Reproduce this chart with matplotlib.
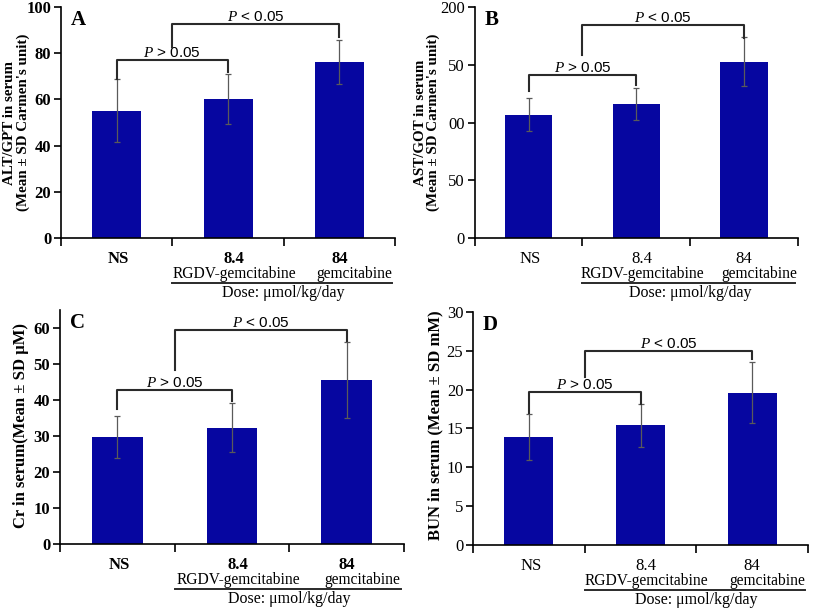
import matplotlib
matplotlib.use("Agg")
import matplotlib.pyplot as plt

plt.rcParams['font.family'] = ['Liberation Serif', 'DejaVu Serif']
plt.rcParams['mathtext.fontset'] = 'custom'
plt.rcParams['mathtext.it'] = 'Liberation Serif:italic'
plt.rcParams['mathtext.rm'] = 'Liberation Sans'

# data
groups = ['NS', '8.4', '84']
group_sub = ['', 'RGDV-gemcitabine', 'gemcitabine']

alt_mean = [55.1, 60.1, 76.3]
alt_sd = [13.7, 10.7, 9.5]
ast_mean = [106.8, 116.0, 152.5]
ast_sd = [14.0, 13.5, 21.0]
cr_mean = [29.7, 32.3, 45.5]
cr_sd = [5.8, 6.8, 10.6]
bun_mean = [13.9, 15.4, 19.6]
bun_sd = [3.0, 2.8, 3.9]

alt_ticks = [0, 20, 40, 60, 80, 100]
ast_ticks = [0, 50, 100, 150, 200]
ast_ticklabels = ['0', '50', '00', '50', '200']
cr_ticks = [0, 10, 20, 30, 40, 50, 60]
bun_ticks = [0, 5, 10, 15, 20, 25, 30]

bar_col = '#0606a0'
err_col = '#5a5a5a'
line_col = '#2a2a2a'

fig = plt.figure(figsize=(8.16, 6.12), dpi=100)
H = 612.0

# small sideways nudges of the x labels, in points
main_dx = [1.5, 4, 0]
sub_dx = [0, 4.5, 11]


def panel(rect, letter, mean, sd, ylim, ticks, ticklabels, ylabel, ylab_fs,
          ylab_xy, bold, br_small, br_big):
    ax = fig.add_axes(rect)
    x = list(range(len(groups)))
    ax.bar(x, mean, width=0.44, color=bar_col, zorder=2)
    ax.errorbar(x, mean, yerr=sd, fmt='none', ecolor=err_col, elinewidth=0.9,
                capsize=2, capthick=0.9, zorder=3)
    ax.set_xlim(-0.5, 2.5)
    ax.set_ylim(*ylim)
    ax.spines['top'].set_visible(False)
    ax.spines['right'].set_visible(False)
    ax.spines['left'].set_linewidth(1.2)
    ax.spines['bottom'].set_linewidth(1.2)
    ax.set_xticks([-0.5, 0.5, 1.5, 2.5])
    ax.set_xticklabels([])
    ax.tick_params(axis='x', direction='out', length=6, width=1.2)
    ax.set_yticks(ticks)
    ax.set_yticklabels(ticklabels, fontsize=12,
                       fontweight='bold' if bold else 'normal')
    ax.tick_params(axis='y', direction='out', length=5, width=1.2, pad=2)
    ax.set_ylabel(ylabel, fontsize=ylab_fs, fontweight='bold', linespacing=1.0)
    ax.yaxis.set_label_coords(*ylab_xy)
    ax.text(0.03, 0.985, letter, transform=ax.transAxes, fontsize=15,
            fontweight='bold', ha='left', va='top')

    # x category labels
    trans = ax.get_xaxis_transform()
    w = 'bold' if bold else 'normal'
    for i, g in enumerate(groups):
        ax.annotate(g, xy=(i, 0), xycoords=trans, xytext=(main_dx[i], -15),
                    textcoords='offset points', ha='center', va='center',
                    fontsize=12, fontweight=w)
        if group_sub[i]:
            ax.annotate(group_sub[i], xy=(i, 0), xycoords=trans,
                        xytext=(sub_dx[i], -25.5), textcoords='offset points',
                        ha='center', va='center', fontsize=11.2)
    hpx = rect[3] * H
    yline = -45.0 / hpx
    ax.plot([0.5, 2.47], [yline, yline], transform=trans, color=line_col,
            lw=1.4, clip_on=False)
    ax.annotate('Dose: \u03bcmol/kg/day', xy=(1.5, 0), xycoords=trans,
                xytext=(0, -39.5), textcoords='offset points', ha='center',
                va='center', fontsize=11.5)

    # significance brackets
    for (x1, x2, top, b1, b2, txt) in (br_small, br_big):
        ax.plot([x1, x1, x2, x2], [b1, top, top, b2], color=line_col, lw=1.5,
                zorder=4, clip_on=False)
        ax.text((x1 + x2) / 2, top, txt, ha='center', va='bottom',
                fontsize=11, family='Liberation Sans')
    return ax


small = r'$\mathit{P}$ > 0.05'
big = r'$\mathit{P}$ < 0.05'

panel([0.0748, 0.6106, 0.4093, 0.3784], 'A', alt_mean, alt_sd, (0, 100),
      alt_ticks, [str(t) for t in alt_ticks],
      "ALT/GPT in serum\n(Mean \u00b1 SD Carmen's unit)", 10.8, (-0.093, 0.5),
      True, (0, 1, 77.0, 68.8, 72.0, small), (0.5, 2, 92.4, 82.7, 86.8, big))

panel([0.5817, 0.6106, 0.3962, 0.3784], 'B', ast_mean, ast_sd, (0, 200),
      ast_ticks, ast_ticklabels,
      "AST/GOT in serum\n(Mean \u00b1 SD Carmen's unit)", 10.8, (-0.107, 0.5),
      False, (0, 1, 141.0, 127.5, 132.4, small),
      (0.5, 2, 184.6, 158.0, 173.0, big))

panel([0.0735, 0.1106, 0.4216, 0.3835], 'C', cr_mean, cr_sd, (0, 65),
      cr_ticks, [str(t) for t in cr_ticks],
      "Cr in serum(Mean \u00b1 SD \u03bcM)", 12, (-0.09, 0.508),
      True, (0, 1, 42.7, 37.4, 39.7, small), (0.5, 2, 59.4, 48.2, 56.3, big))

panel([0.5797, 0.109, 0.4105, 0.3817], 'D', bun_mean, bun_sd, (0, 30),
      bun_ticks, [str(t) for t in bun_ticks],
      "BUN in serum (Mean \u00b1 SD mM)", 12, (-0.0896, 0.515),
      False, (0, 1, 19.7, 17.0, 18.2, small), (0.5, 2, 24.9, 21.6, 23.9, big))

fig.savefig('out.png', dpi=100)
